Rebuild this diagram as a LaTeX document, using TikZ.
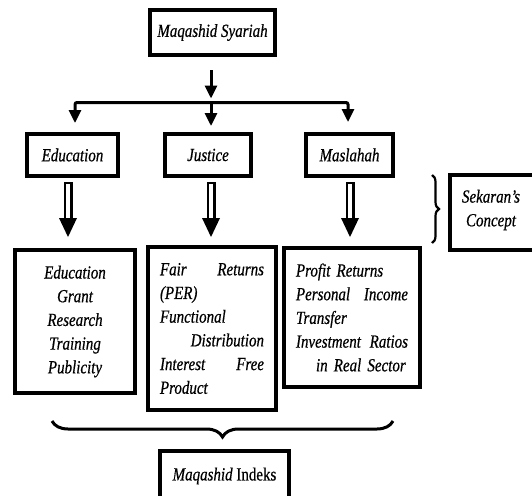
\documentclass[tikz,border=0pt]{standalone}
\usepackage{fontspec}
\setmainfont{Liberation Serif}[FakeStretch=0.81, FakeBold=0.6]
\usetikzlibrary{arrows.meta,decorations.pathreplacing,calc}
\tikzset{
  box/.style={draw=black, line width=4pt, inner sep=0pt, font=\fontsize{18.5}{23.7}\selectfont\itshape},
  lbl/.style={inner sep=0pt, font=\fontsize{18.5}{23.7}\selectfont\itshape, align=center},
  arr/.style={line width=3pt, -{Triangle[width=12pt,length=13pt]}},
  brc/.style={decorate, decoration={brace, amplitude=#1}},
}
\newcommand\hollowarrow[2]{%
  \draw[line width=2.2pt, fill=white] ([xshift=#2pt-3.4pt,yshift=-5pt]#1.south) rectangle ([xshift=#2pt+3.4pt,yshift=-41pt]#1.south);
  \fill ([xshift=#2pt-9pt,yshift=-40pt]#1.south) -- ([xshift=#2pt+9pt,yshift=-40pt]#1.south) -- ([xshift=#2pt,yshift=-59pt]#1.south) -- cycle;}
\begin{document}
\begin{tikzpicture}[x=1pt,y=-1pt]
\useasboundingbox (0,0) rectangle (532,495);
\begin{scope}
\clip (0,0) rectangle (532,495);
% top
\node[box, minimum width=125pt, minimum height=45pt] (top) at (212.5,32.5) {Maqashid Syariah};
% level 1
\node[box, minimum width=91pt, minimum height=42pt] (edu) at (72.5,155) {Education};
\node[box, minimum width=86pt, minimum height=42pt] (jus) at (208,155) {Justice};
\node[box, minimum width=87pt, minimum height=42pt] (mas) at (349.5,155) {Maslahah};
% level 2
\node[box, minimum width=120pt, minimum height=143pt, text width=110pt, align=center] (edub) at (75,321.5)
  {Education\\Grant\\Research\\Training\\Publicity};
\node[box, minimum width=128pt, minimum height=163pt, text width=104pt, align=left] (jusb) at (212,328.5)
  {Fair\hspace*{\fill}Returns\\(PER)\\Functional\\\hspace*{\fill}Distribution\\Interest\hspace*{\fill}Free\\Product};
\node[box, minimum width=136pt, minimum height=139pt, text width=112pt, align=left] (masb) at (352,317.5)
  {Profit Returns\\Personal\hspace*{\fill}Income\\Transfer\\Investment\hspace*{\fill}Ratios\\\hspace*{20pt}in Real Sector};
% Sekaran
\node[box, minimum width=108pt, minimum height=75pt] (sek) at (504,212.5) {};
\node[lbl] (sekt) at (491,210) {Sekaran’s\\Concept};
% Indeks
\node[box, minimum width=129pt, minimum height=50pt] (idx) at (224.5,476) {Maqashid \textup{Indeks}};
% solid arrows
\coordinate (split) at (211,102.5);
\draw[arr, shorten <=13pt, shorten >=4pt] (top.south -| split) -- (split);
\draw[arr, rounded corners=2pt, shorten >=9pt] (split) -| ([xshift=2.5pt]edu.north);
\draw[arr, shorten >=6pt] (split) -- (split |- jus.north);
\draw[arr, rounded corners=2pt, shorten >=10pt] (split) -| ([xshift=-1.5pt]mas.north);
% hollow arrows
\hollowarrow{edu}{-4.5}
\hollowarrow{jus}{3}
\hollowarrow{mas}{0.5}
% braces
\coordinate (rb1) at (432,175);
\coordinate (rb2) at (432,243);
\draw[brc=7pt, line width=2.2pt] (rb1) -- (rb2);
\coordinate (bb1) at (393,421);
\coordinate (bb2) at (52,421);
\draw[brc=16pt, line width=3pt] (bb1) -- (bb2);
\end{scope}
\end{tikzpicture}
\end{document}
